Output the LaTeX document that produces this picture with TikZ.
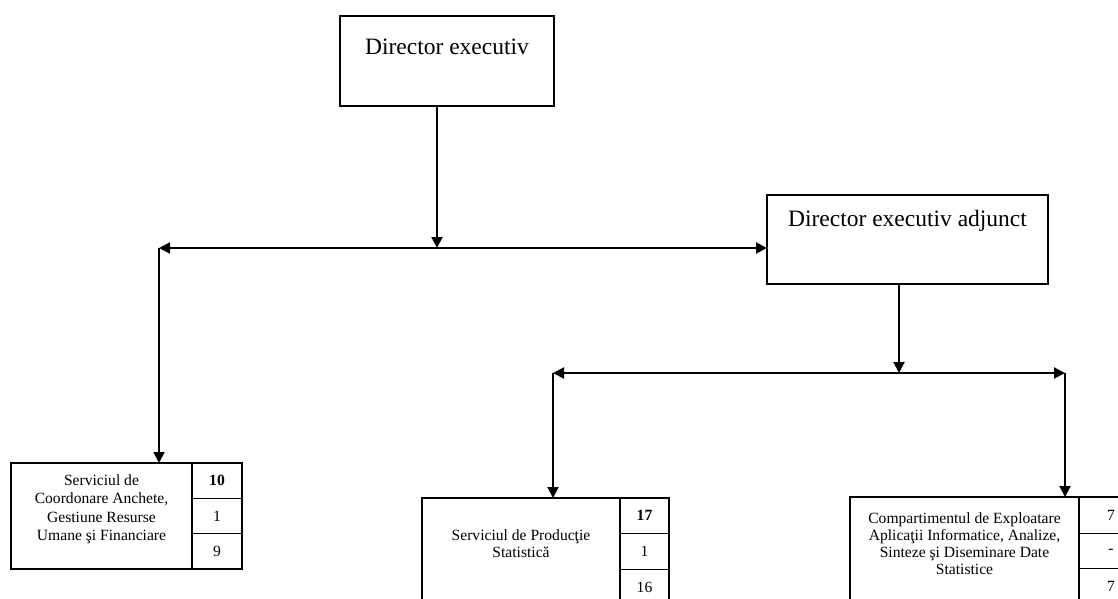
\documentclass[tikz,border=0pt]{standalone}
\usepackage{fontspec}
\setmainfont{Liberation Serif}
\usepackage{tikz}
\usetikzlibrary{arrows.meta,positioning}
\tikzset{
	box/.style={draw, line width=1.1pt, inner sep=0pt, outer sep=0pt},
	numcell/.style={draw, line width=1.1pt, inner sep=0pt, outer sep=0pt,
		font=\fontsize{15.6}{18}\selectfont},
	bigtxt/.style={inner sep=0pt, font=\fontsize{23.5}{28}\selectfont},
	smalltxt/.style={inner sep=0pt, align=center, font=\fontsize{15.6}{18.4}\selectfont},
	conn/.style={line width=2pt, -{Triangle[length=11pt,width=11pt]}}
}
\begin{document}
\begin{tikzpicture}[x=1pt, y=-1pt]
	\useasboundingbox (0,0) rectangle (1118,599);
	\clip (0,0) rectangle (1118,599);
	
	% directors
	\node[box, minimum width=214, minimum height=90] (dirExec) at (447,61) {};
	\node[bigtxt, below=23pt of dirExec.north] {Director executiv};
	\node[box, minimum width=281, minimum height=89] (dirAdj) at (907.5,239.5) {};
	\node[bigtxt, below=15pt of dirAdj.north] {Director executiv adjunct};
	
	% services
	\node[box, anchor=north west, minimum width=181, minimum height=106] (svcCoord) at (11,463) {};
	\node[smalltxt, below=11.5pt of svcCoord.north] {Serviciul de\\Coordonare Anchete,\\Gestiune Resurse\\Umane şi Financiare};
	\node[numcell, anchor=north west, minimum width=50, minimum height=35.33] (coordA) at (svcCoord.north east) {\textbf{10}};
	\node[numcell, below=0pt of coordA, minimum width=50, minimum height=35.33] (coordB) {1};
	\node[numcell, below=0pt of coordB, minimum width=50, minimum height=35.33] (coordC) {9};
	
	\node[box, anchor=north west, minimum width=198, minimum height=107] (svcProd) at (422,498) {};
	\node[smalltxt, below=31pt of svcProd.north, font=\fontsize{15.6}{17.4}\selectfont] {Serviciul de Producţie\\Statistică};
	\node[numcell, anchor=north west, minimum width=49, minimum height=35.67] (prodA) at (svcProd.north east) {\textbf{17}};
	\node[numcell, below=0pt of prodA, minimum width=49, minimum height=35.67] (prodB) {1};
	\node[numcell, below=0pt of prodB, minimum width=49, minimum height=35.67] (prodC) {16};
	
	\node[box, anchor=north west, minimum width=229, minimum height=108] (compExpl) at (850,497) {};
	\node[smalltxt, below=15pt of compExpl.north, font=\fontsize{15.6}{17.2}\selectfont] {Compartimentul de Exploatare\\Aplicaţii Informatice, Analize,\\Sinteze şi Diseminare Date\\Statistice};
	\node[numcell, anchor=north west, minimum width=64, minimum height=36.5] (explA) at (compExpl.north east) {7};
	\node[numcell, below=0pt of explA, minimum width=64, minimum height=35] (explB) {-};
	\node[numcell, below=0pt of explB, minimum width=64, minimum height=36.5] (explC) {7};
	
	% junctions
	\coordinate (topJ) at (437,248);
	\coordinate (topL) at (159,248);
	\coordinate (midJ) at (899,373);
	\coordinate (midL) at (553,373);
	\coordinate (midR) at (1065,373);
	
	% connectors
	\draw[conn] (dirExec.south -| topJ) -- (topJ);
	\draw[conn] (topJ) -- (topL);
	\draw[conn] (topJ) -- (dirAdj.west |- topJ);
	\draw[conn] (topL) -- (svcCoord.north -| topL);
	\draw[conn] (dirAdj.south -| midJ) -- (midJ);
	\draw[conn] (midJ) -- (midL);
	\draw[conn] (midJ) -- (midR);
	\draw[conn] (midL) -- (svcProd.north -| midL);
	\draw[conn] (midR) -- (compExpl.north -| midR);
\end{tikzpicture}
\end{document}
